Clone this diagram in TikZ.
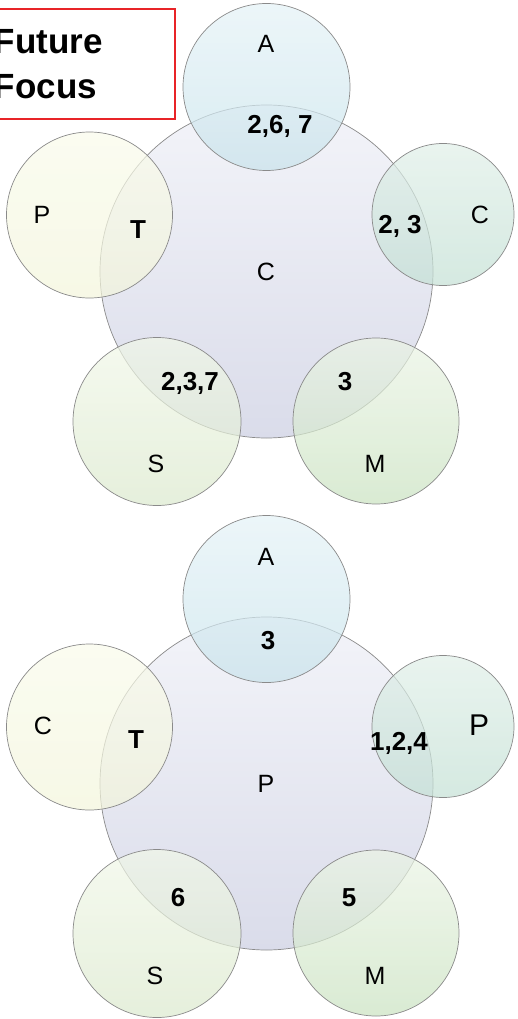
\documentclass[tikz,border=0pt]{standalone}
\usepackage{fontspec}
\setmainfont{Liberation Sans}
\usetikzlibrary{positioning}
\definecolor{RimGray}{RGB}{138,138,138}
\definecolor{FocusRed}{RGB}{232,36,40}
\definecolor{CoreTop}{RGB}{243,244,249}
\definecolor{CoreBot}{RGB}{218,220,234}
\definecolor{ATop}{RGB}{228,242,246}
\definecolor{ABot}{RGB}{200,227,236}
\definecolor{LTop}{RGB}{249,251,235}
\definecolor{LBot}{RGB}{243,245,219}
\definecolor{RTop}{RGB}{224,239,232}
\definecolor{RBot}{RGB}{195,224,212}
\definecolor{STop}{RGB}{241,247,232}
\definecolor{SBot}{RGB}{219,233,205}
\definecolor{MTop}{RGB}{235,244,229}
\definecolor{MBot}{RGB}{201,226,192}

\begin{document}
\begin{tikzpicture}[x=1pt,y=-1pt,
set/.style={circle,draw=RimGray,line width=0.7pt,inner sep=0pt},
core/.style={set,minimum size=333pt,top color=CoreTop,bottom color=CoreBot},
ring/.style={set,fill opacity=0.7},
ringA/.style={ring,minimum size=167pt,top color=ATop,bottom color=ABot},
ringL/.style={ring,minimum size=166pt,top color=LTop,bottom color=LBot},
ringR/.style={ring,minimum size=142pt,top color=RTop,bottom color=RBot},
ringS/.style={ring,minimum size=168pt,top color=STop,bottom color=SBot},
ringM/.style={ring,minimum size=166pt,top color=MTop,bottom color=MBot},
lbl/.style={anchor=base,inner sep=0pt,font=\fontsize{25}{29}\selectfont},
num/.style={anchor=base,inner sep=0pt,font=\fontsize{26}{30}\selectfont\bfseries}]
\useasboundingbox (0,0) rectangle (517,1019);

% upper diagram
\node[core] (tcore) at (266.5,271.5) {};
\node[ringA] (ta) at (266.5,87) {};
\node[ringL] (tl) at (89.5,215) {};
\node[ringR] (tr) at (443,214.5) {};
\node[ringS] (ts) at (157,421.5) {};
\node[ringM] (tm) at (376,421) {};
\node[lbl] (tcoretxt) at (266,280) {C};
\node[lbl] (tatxt) at (266,53) {A};
\node[lbl] (tltxt) at (42,223) {P};
\node[lbl] (trtxt) at (480,223) {C};
\node[lbl] (tstxt) at (156,472) {S};
\node[lbl] (tmtxt) at (375,472) {M};
\node[num] (tan) at (280,134) {2,6, 7};
\node[num] (tln) at (138,238) {T};
\node[num] (trn) at (400,233) {2, 3};
\node[num] (tsn) at (190,390) {2,3,7};
\node[num] (tmn) at (345,390) {3};

% lower diagram
\node[core] (bcore) at (266.5,783.5) {};
\node[ringA] (ba) at (266.5,599) {};
\node[ringL] (bl) at (89.5,727) {};
\node[ringR] (br) at (443,726.5) {};
\node[ringS] (bs) at (157,933.5) {};
\node[ringM] (bm) at (376,933) {};
\node[lbl] (bcoretxt) at (266,792) {P};
\node[lbl] (batxt) at (266,565) {A};
\node[lbl] (bltxt) at (43,734) {C};
\node[lbl,font=\fontsize{30}{34}\selectfont] (brtxt) at (479,735) {P};
\node[lbl] (bstxt) at (155,984) {S};
\node[lbl] (bmtxt) at (375,984) {M};
\node[num] (ban) at (268,649) {3};
\node[num] (bln) at (136,748) {T};
\node[num] (brn) at (399,750) {1,2,4};
\node[num] (bsn) at (178,906) {6};
\node[num] (bmn) at (349,906) {5};

% heading box, cut at the left edge
\node[draw=FocusRed,line width=1.4pt,fill=white,minimum height=110pt,
  text width=167pt,inner xsep=14pt,align=left,
  font=\fontsize{35}{45}\selectfont\bfseries] (focus) at (77.5,64) {Future\\Focus};
\end{tikzpicture}
\end{document}
